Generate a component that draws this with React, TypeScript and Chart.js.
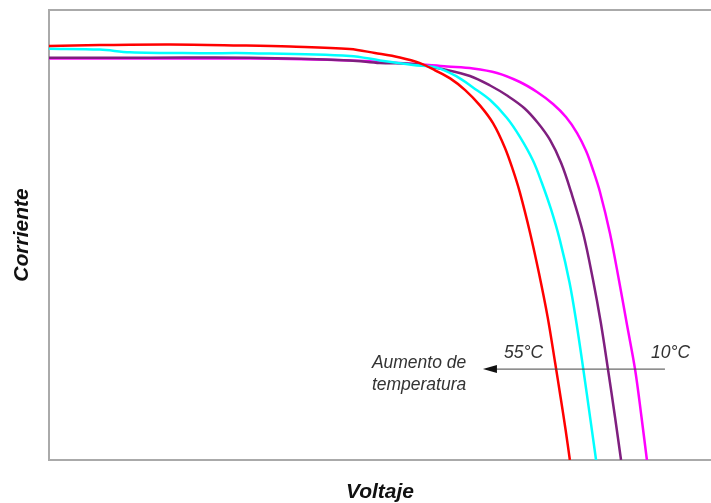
import React, { useEffect, useRef } from "react";
import { Chart, registerables } from "chart.js";

Chart.register(...registerables);

// Voltage (V) and current (A) samples, per temperature curve
const red55V = [0, 1.69, 4.02, 6.35, 8.01, 10.0, 10.83, 11.66, 12.33, 12.83, 13.33, 13.83, 14.32, 14.76, 15.15, 15.42, 15.65, 15.99, 16.28, 16.57, 16.82, 17.0, 17.17, 17.31];
const red55I = [4.6, 4.61, 4.617, 4.606, 4.594, 4.567, 4.522, 4.472, 4.41, 4.33, 4.24, 4.11, 3.94, 3.74, 3.47, 3.22, 2.97, 2.52, 2.08, 1.59, 1.08, 0.7, 0.33, 0];

const cyanV = [0, 1.69, 2.69, 5.02, 6.68, 10.0, 11.0, 12.1, 12.89, 13.56, 14.09, 14.66, 15.22, 15.65, 16.08, 16.38, 16.68, 16.98, 17.3, 17.53, 17.76, 17.98, 18.18];
const cyanI = [4.57, 4.56, 4.53, 4.52, 4.52, 4.49, 4.44, 4.39, 4.36, 4.26, 4.14, 4.0, 3.8, 3.59, 3.33, 3.078, 2.789, 2.44, 1.97, 1.52, 1.0, 0.48, 0];

const purpleV = [0, 3.36, 6.68, 10.0, 11.0, 12.1, 13.23, 13.99, 14.66, 15.25, 15.79, 16.25, 16.65, 17.02, 17.35, 17.75, 18.08, 18.34, 18.58, 18.81, 19.01];
const purpleI = [4.47, 4.47, 4.47, 4.44, 4.41, 4.4, 4.333, 4.267, 4.161, 4.044, 3.911, 3.744, 3.556, 3.3, 2.978, 2.522, 2.0, 1.522, 1.0, 0.478, 0];

const magenta10V = [0, 3.36, 6.68, 10.0, 11.66, 13.23, 14.09, 14.89, 15.65, 16.22, 16.75, 17.18, 17.55, 17.85, 18.08, 18.31, 18.64, 18.94, 19.21, 19.48, 19.69, 19.87];
const magenta10I = [4.46, 4.46, 4.46, 4.44, 4.411, 4.372, 4.35, 4.3, 4.2, 4.089, 3.956, 3.811, 3.633, 3.433, 3.222, 2.978, 2.522, 2.0, 1.5, 1.0, 0.478, 0];

const xTitle = "Voltaje";
const yTitle = "Corriente";
const label55 = "55°C";
const label10 = "10°C";
const arrowText = ["Aumento de", "temperatura"];

// Annotation anchors in data units (V, A)
const arrowFrom = [20.47, 1.01];
const arrowTo = [14.42, 1.01];
const pos55 = [15.12, 1.13];
const pos10 = [20.01, 1.13];
const posText = [10.73, 1.02];

const zip = (xs: number[], ys: number[]) => xs.map((x, i) => ({ x, y: ys[i] }));

const FONT = "'Liberation Sans', Arial, sans-serif";

const annotationPlugin = {
  id: "tempAnnotations",
  afterDatasetsDraw(chart: any) {
    const { ctx, scales } = chart;
    const xs = scales.x;
    const ys = scales.y;
    const px = (v: number) => xs.getPixelForValue(v);
    const py = (v: number) => ys.getPixelForValue(v);
    ctx.save();
    const x1 = px(arrowFrom[0]);
    const y1 = py(arrowFrom[1]);
    const x2 = px(arrowTo[0]);
    const y2 = py(arrowTo[1]);
    ctx.strokeStyle = "#444";
    ctx.lineWidth = 1;
    ctx.beginPath();
    ctx.moveTo(x1, y1);
    ctx.lineTo(x2 + 12, y2);
    ctx.stroke();
    ctx.fillStyle = "#111";
    ctx.beginPath();
    ctx.moveTo(x2, y2);
    ctx.lineTo(x2 + 14, y2 - 4);
    ctx.lineTo(x2 + 14, y2 + 4);
    ctx.closePath();
    ctx.fill();
    ctx.fillStyle = "#333";
    ctx.font = `italic 17.5px ${FONT}`;
    ctx.textAlign = "left";
    ctx.textBaseline = "alphabetic";
    ctx.fillText(label55, px(pos55[0]), py(pos55[1]));
    ctx.fillText(label10, px(pos10[0]), py(pos10[1]));
    ctx.fillText(arrowText[0], px(posText[0]), py(posText[1]));
    ctx.fillText(arrowText[1], px(posText[0]), py(posText[1]) + 22);
    ctx.restore();
  },
};

export default function App() {
  const ref = useRef<HTMLCanvasElement | null>(null);

  useEffect(() => {
    if (!ref.current) return;
    const mk = (label: string, xs: number[], ys: number[], color: string) => ({
      label,
      data: zip(xs, ys),
      borderColor: color,
      backgroundColor: color,
      borderWidth: 2.5,
      pointRadius: 0,
      tension: 0.35,
      fill: false,
    });
    const chart = new Chart(ref.current, {
      type: "line",
      data: {
        datasets: [
          mk("55°C", red55V, red55I, "#ff0000"),
          mk("cyan", cyanV, cyanI, "#00ffff"),
          mk("purple", purpleV, purpleI, "#7f1f7f"),
          mk("10°C", magenta10V, magenta10I, "#ff00ff"),
        ],
      },
      options: {
        animation: false,
        responsive: true,
        maintainAspectRatio: false,
        layout: { padding: { top: 10, left: 0, right: 0, bottom: 0 } },
        plugins: { legend: { display: false }, tooltip: { enabled: false } },
        scales: {
          x: {
            type: "linear",
            min: 0,
            max: 22,
            ticks: { display: false },
            grid: { display: false, drawTicks: false },
            border: { display: true, color: "#aaaaaa", width: 2 },
            title: {
              display: true,
              text: xTitle,
              color: "#111",
              font: { family: FONT, size: 21, weight: "bold", style: "italic" },
              padding: { top: 19.8, bottom: -2 },
            },
          },
          x2: {
            type: "linear",
            position: "top",
            min: 0,
            max: 22,
            ticks: { display: false },
            grid: { display: false, drawTicks: false },
            border: { display: true, color: "#aaaaaa", width: 2 },
          },
          y: {
            type: "linear",
            min: 0,
            max: 5,
            ticks: { display: false },
            grid: { display: false, drawTicks: false },
            border: { display: true, color: "#aaaaaa", width: 2 },
            title: {
              display: true,
              text: yTitle,
              color: "#111",
              font: { family: FONT, size: 21, weight: "bold", style: "italic" },
              padding: { top: 10, bottom: 13.8 },
            },
          },
        },
      },
      plugins: [annotationPlugin],
    });
    return () => chart.destroy();
  }, []);

  return (
    <div style={{ position: "absolute", left: 0, top: 0, width: 711, height: 503, background: "#fff" }}>
      <canvas ref={ref} />
    </div>
  );
}
